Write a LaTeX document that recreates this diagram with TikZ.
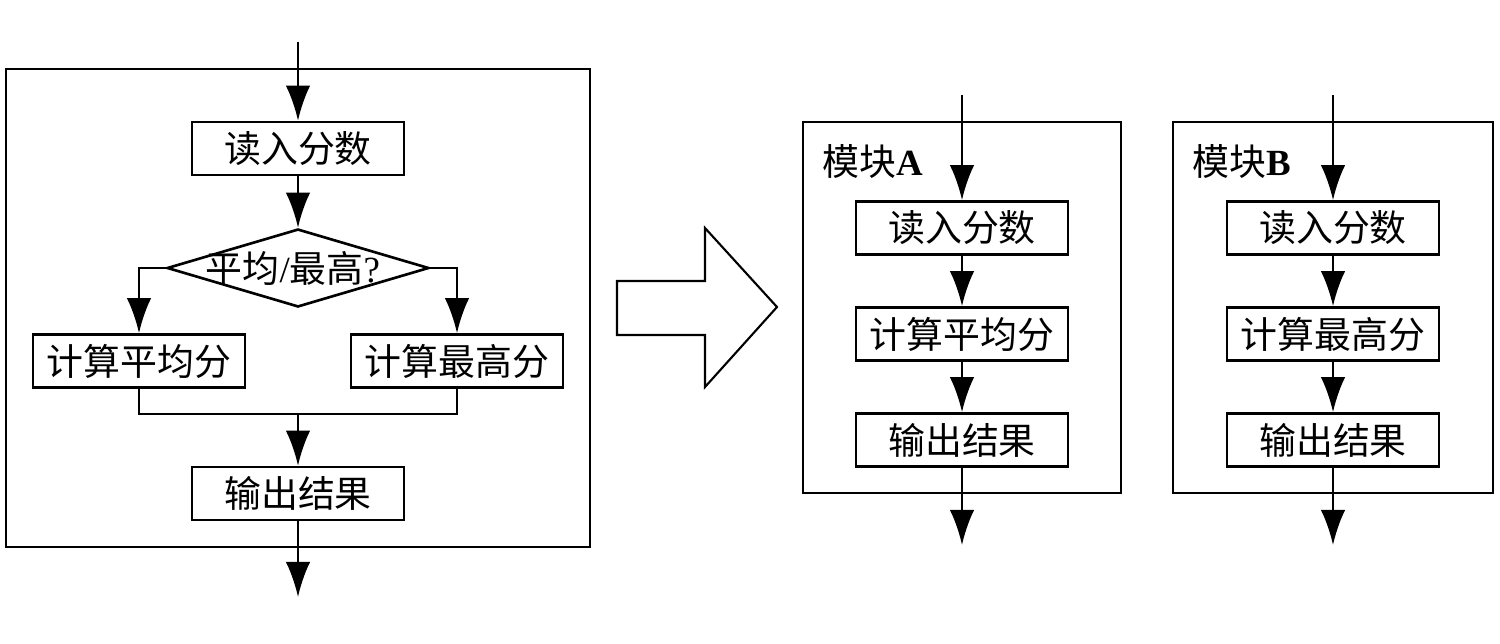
\documentclass[tikz,border=0pt]{standalone}
\usepackage{fontspec}
\setmainfont{Liberation Serif}
\newfontfamily\cjk{Noto Sans CJK SC}
\usetikzlibrary{arrows.meta,shapes.geometric}

\begin{document}
\begin{tikzpicture}[>={Latex[length=20pt,width=14pt]},x=0.02cm,y=-0.02cm,line width=1.5pt,
  box/.style={draw,minimum width=4.24cm,minimum height=1.06cm,inner sep=0pt,font=\cjk\fontsize{21}{25}\selectfont},
  decision/.style={draw,diamond,minimum width=5.24cm,minimum height=1.56cm,inner sep=0pt},
  tag/.style={anchor=west,inner sep=0pt,font=\fontsize{21}{25}\selectfont}]
\useasboundingbox (0,0) rectangle (1500,643);
% left: one module with a branch
\draw (6,69) rectangle (590,547);
\coordinate (in) at (298,42);
\coordinate (out) at (298,597);
\coordinate (join) at (298,414);
\node[box] (read) at (298,148.5) {读入分数};
\node[decision] (choice) at (298,268) {};
\node[font=\fontsize{21}{25}\selectfont] (ask) at (293,268) {{\cjk 平均}/{\cjk 最高}?};
\node[box] (avg) at (139,361) {计算平均分};
\node[box] (max) at (457,361) {计算最高分};
\node[box] (show) at (298,493.5) {输出结果};
\draw[->] (in) -- (read);
\draw[->] (read) -- (choice);
\draw[->] (choice.west) -| (avg);
\draw[->] (choice.east) -| (max);
\draw (avg) |- (join) -| (max);
\draw[->] (join) -- (show);
\draw[->] (show) -- (out);
% hollow arrow
\draw[line width=1.2pt] (617,281) -- (705,281) -- (705,228) -- (777,307) -- (705,387) -- (705,335) -- (617,335) -- cycle;
% module A
\draw (803,122) rectangle (1121,493);
\node[tag] (nameA) at (821,162) {{\cjk 模块}\textbf{A}};
\coordinate (inA) at (962,95);
\coordinate (outA) at (962,545);
\node[box] (readA) at (962,228) {读入分数};
\node[box] (avgA) at (962,334) {计算平均分};
\node[box] (showA) at (962,440) {输出结果};
\draw[->] (inA) -- (readA);
\draw[->] (readA) -- (avgA);
\draw[->] (avgA) -- (showA);
\draw[->] (showA) -- (outA);
% module B
\draw (1173,122) rectangle (1493,493);
\node[tag] (nameB) at (1191,162) {{\cjk 模块}\textbf{B}};
\coordinate (inB) at (1333,95);
\coordinate (outB) at (1333,545);
\node[box] (readB) at (1333,228) {读入分数};
\node[box] (maxB) at (1333,334) {计算最高分};
\node[box] (showB) at (1333,440) {输出结果};
\draw[->] (inB) -- (readB);
\draw[->] (readB) -- (maxB);
\draw[->] (maxB) -- (showB);
\draw[->] (showB) -- (outB);
\end{tikzpicture}
\end{document}
